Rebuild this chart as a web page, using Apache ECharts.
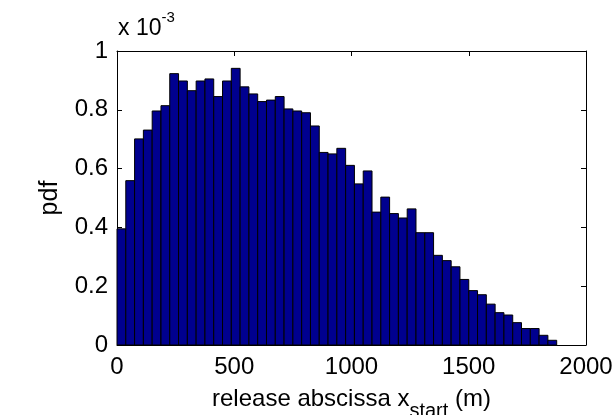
<!DOCTYPE html>
<html>
<head>
<meta charset="utf-8">
<script src="https://cdn.jsdelivr.net/npm/echarts@6/dist/echarts.min.js"></script>
<style>
  html, body { margin: 0; padding: 0; background: #fff; }
  #chart { width: 613px; height: 415px; }
</style>
</head>
<body>
<div id="chart"></div>
<script>
// histogram of release abscissa, 50 bins, values in units of 1e-3
const binWidth = 37.5;
const pdfValues = [
    0.395, 0.559, 0.701, 0.731, 0.796, 0.814, 0.923, 0.898, 0.865, 0.898,
    0.905, 0.845, 0.898, 0.941, 0.878, 0.854, 0.828, 0.833, 0.845, 0.803,
    0.796, 0.790, 0.745, 0.655, 0.650, 0.669, 0.611, 0.548, 0.592, 0.452,
    0.503, 0.447, 0.432, 0.463, 0.382, 0.382, 0.305, 0.287, 0.266, 0.223,
    0.185, 0.171, 0.139, 0.110, 0.102, 0.076, 0.056, 0.056, 0.033, 0.016
];
const xTicks = [0, 500, 1000, 1500, 2000];
const yTicks = [0, 0.2, 0.4, 0.6, 0.8, 1];

const FONT = 'Liberation Sans';
const BAR_COLOR = '#00008F';

const chartDom = document.getElementById('chart');
const myChart = echarts.init(chartDom);

const barData = pdfValues.map(function (v, i) {
    return [i * binWidth, (i + 1) * binWidth, v];
});

const plainLabel = function (v) { return String(v); };

const axisCommon = {
    axisLine: { show: true, onZero: false, lineStyle: { color: '#000', width: 1 } },
    axisTick: { show: true, inside: true, length: 5, lineStyle: { color: '#000' } },
    splitLine: { show: false }
};

const option = {
    animation: false,
    backgroundColor: '#fff',
    textStyle: { fontFamily: FONT },
    grid: { left: 117, top: 51, right: 27, bottom: 70, containLabel: false, outerBoundsMode: 'none' },
    xAxis: [
        Object.assign({
            type: 'value',
            min: xTicks[0],
            max: xTicks[xTicks.length - 1],
            interval: 500,
            position: 'bottom',
            axisLabel: { color: '#000', fontSize: 24, fontFamily: FONT, margin: 10, formatter: plainLabel },
            name: '{a|release abscissa x}{s|start}{a| (m)}',
            nameLocation: 'middle',
            nameGap: 42,
            nameTextStyle: {
                rich: {
                    a: { fontSize: 24, fontFamily: FONT, color: '#000', lineHeight: 24 },
                    s: { fontSize: 20, fontFamily: FONT, color: '#000', lineHeight: 20, verticalAlign: 'top', padding: [14, 0, 0, 0] }
                }
            }
        }, axisCommon),
        Object.assign({
            type: 'value',
            min: xTicks[0],
            max: xTicks[xTicks.length - 1],
            interval: 500,
            position: 'top',
            axisLabel: { show: false }
        }, axisCommon)
    ],
    yAxis: [
        Object.assign({
            type: 'value',
            min: yTicks[0],
            max: yTicks[yTicks.length - 1],
            interval: 0.2,
            position: 'left',
            axisLabel: { color: '#000', fontSize: 24, fontFamily: FONT, margin: 9, formatter: plainLabel },
            name: 'pdf',
            nameLocation: 'middle',
            nameRotate: 90,
            nameGap: 54,
            nameTextStyle: { fontSize: 25, fontFamily: FONT, color: '#000' }
        }, axisCommon),
        Object.assign({
            type: 'value',
            min: yTicks[0],
            max: yTicks[yTicks.length - 1],
            interval: 0.2,
            position: 'right',
            axisLabel: { show: false }
        }, axisCommon)
    ],
    graphic: [
        {
            type: 'text',
            left: 118,
            top: 10,
            style: {
                text: '{a|x 10}{b|-3}',
                rich: {
                    a: { fontSize: 23, fontFamily: FONT, fill: '#000', lineHeight: 30, verticalAlign: 'bottom' },
                    b: { fontSize: 15, fontFamily: FONT, fill: '#000', lineHeight: 30, verticalAlign: 'top' }
                }
            }
        }
    ],
    series: [
        {
            type: 'custom',
            xAxisIndex: 0,
            yAxisIndex: 0,
            data: barData,
            renderItem: function (params, api) {
                const p0 = api.coord([api.value(0), 0]);
                const p1 = api.coord([api.value(1), api.value(2)]);
                return {
                    type: 'rect',
                    shape: { x: p0[0], y: p1[1], width: p1[0] - p0[0], height: p0[1] - p1[1] },
                    style: { fill: BAR_COLOR, stroke: '#000', lineWidth: 1 }
                };
            }
        }
    ]
};

myChart.setOption(option);
</script>
</body>
</html>
